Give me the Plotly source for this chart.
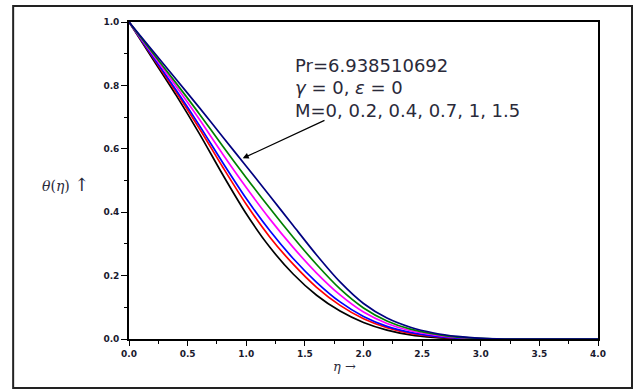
import plotly.graph_objects as go

eta = [0.0, 0.2, 0.4, 0.6, 0.8, 1.0, 1.2, 1.4, 1.6, 1.8, 2.0, 2.2, 2.4, 2.6, 2.8, 3.0,
       3.2, 3.4, 3.6, 3.8, 4.0]

theta_M0 = [1.0, 0.885, 0.770, 0.648, 0.518, 0.395, 0.290, 0.205, 0.138, 0.088, 0.052,
            0.028, 0.013, 0.005, 0.001, 0.0, 0.0, 0.0, 0.0, 0.0, 0.0]
theta_M02 = [1.0, 0.890, 0.780, 0.664, 0.542, 0.425, 0.322, 0.236, 0.163, 0.106, 0.064,
             0.036, 0.018, 0.008, 0.002, 0.0, 0.0, 0.0, 0.0, 0.0, 0.0]
theta_M04 = [1.0, 0.893, 0.786, 0.674, 0.556, 0.443, 0.342, 0.254, 0.179, 0.117, 0.071,
             0.040, 0.021, 0.009, 0.003, 0.001, 0.0, 0.0, 0.0, 0.0, 0.0]
theta_M07 = [1.0, 0.899, 0.798, 0.693, 0.583, 0.478, 0.379, 0.289, 0.208, 0.139, 0.085,
             0.049, 0.026, 0.013, 0.005, 0.001, 0.0, 0.0, 0.0, 0.0, 0.0]
theta_M1 = [1.0, 0.904, 0.808, 0.710, 0.608, 0.509, 0.413, 0.321, 0.235, 0.158, 0.098,
            0.057, 0.031, 0.016, 0.006, 0.002, 0.0, 0.0, 0.0, 0.0, 0.0]
theta_M15 = [1.0, 0.910, 0.820, 0.730, 0.637, 0.545, 0.452, 0.358, 0.265, 0.180, 0.112,
             0.066, 0.037, 0.019, 0.008, 0.002, 0.0, 0.0, 0.0, 0.0, 0.0]

series_names = ["M=0", "M=0.2", "M=0.4", "M=0.7", "M=1", "M=1.5"]
series_values = [theta_M0, theta_M02, theta_M04, theta_M07, theta_M1, theta_M15]
series_colors = ["#000000", "#ff0000", "#0000ff", "#ff00ff", "#008000", "#000080"]

x_ticks = [0.0, 0.5, 1.0, 1.5, 2.0, 2.5, 3.0, 3.5, 4.0]
y_ticks = [0.0, 0.2, 0.4, 0.6, 0.8, 1.0]

fig = go.Figure()
for name, vals, col in zip(series_names, series_values, series_colors):
    fig.add_trace(go.Scatter(x=eta, y=vals, mode="lines", name=name,
                             line=dict(color=col, width=1.7, shape="spline", smoothing=0.8)))

tickfont = dict(family="DejaVu Sans", size=9, color="#1a1a2e", weight="bold")
fig.update_layout(
    width=637, height=389,
    margin=dict(l=129, r=39, t=22, b=50),
    plot_bgcolor="white", paper_bgcolor="white",
    showlegend=False,
    xaxis=dict(range=[0, 4], tickvals=x_ticks, ticktext=[f"{v:.1f}" for v in x_ticks],
               showgrid=False, zeroline=False, showline=True, linecolor="black", linewidth=1.6,
               mirror=True, ticks="outside", ticklen=5, tickwidth=1.4, tickcolor="black",
               minor=dict(dtick=0.25, ticks="outside", ticklen=3, tickwidth=1.2, tickcolor="black"),
               tickfont=tickfont),
    yaxis=dict(range=[0, 1], tickvals=y_ticks, ticktext=[f"{v:.1f}" for v in y_ticks],
               showgrid=False, zeroline=False, showline=True, linecolor="black", linewidth=1.6,
               mirror=True, ticks="outside", ticklen=6, tickwidth=1.4, tickcolor="black",
               minor=dict(dtick=0.1, ticks="outside", ticklen=3, tickwidth=1.2, tickcolor="black"),
               tickfont=tickfont),
    xaxis2=dict(overlaying="x", matches="x", side="top", showticklabels=False, showgrid=False,
                zeroline=False, showline=False, tickvals=x_ticks, ticks="inside", ticklen=4,
                tickwidth=1.4, tickcolor="black",
                minor=dict(dtick=0.25, ticks="inside", ticklen=3, tickwidth=1.2, tickcolor="black")),
    yaxis2=dict(overlaying="y", matches="y", side="right", showticklabels=False, showgrid=False,
                zeroline=False, showline=False, tickvals=y_ticks, ticks="inside", ticklen=5,
                tickwidth=1.4, tickcolor="black",
                minor=dict(dtick=0.1, ticks="inside", ticklen=3, tickwidth=1.2, tickcolor="black")),
)

# outer frame
fig.add_shape(type="rect", xref="paper", yref="paper", x0=-0.247, x1=1.0725, y0=-0.1546, y1=1.0505,
              line=dict(color="#222222", width=2), fillcolor="rgba(0,0,0,0)", layer="above")

txtfont = dict(family="DejaVu Sans", size=18, color="#2a2a3a")
lines = ["Pr=6.938510692", "<i>γ</i> = 0, <i>ε</i> = 0", "M=0, 0.2, 0.4, 0.7, 1, 1.5"]
line_y = [0.864, 0.792, 0.722]
for t, yy in zip(lines, line_y):
    fig.add_annotation(x=1.40, y=yy, xref="x", yref="y", text=t, showarrow=False,
                       xanchor="left", yanchor="middle", font=txtfont)

fig.add_annotation(x=0.97, y=0.57, xref="x", yref="y", ax=1.68, ay=0.692, axref="x", ayref="y",
                   text="", showarrow=True, arrowhead=2, arrowsize=1.0, arrowwidth=1.2,
                   arrowcolor="black")

fig.add_annotation(x=-0.136, y=0.486, xref="paper", yref="paper", showarrow=False,
                   xanchor="center", yanchor="middle",
                   text="<i>θ</i>(<i>η</i>) <span style='font-size:18px'>↑</span>",
                   font=dict(family="DejaVu Serif", size=14, color="#2a2a3a"))
fig.add_annotation(x=0.46, y=-0.088, xref="paper", yref="paper", showarrow=False,
                   xanchor="center", yanchor="middle",
                   text="<i>η</i> →", font=dict(family="DejaVu Serif", size=13, color="#2a2a3a"))

fig.write_html("out.html", post_script="document.body.style.margin='0px';",
               config={"displayModeBar": False})
